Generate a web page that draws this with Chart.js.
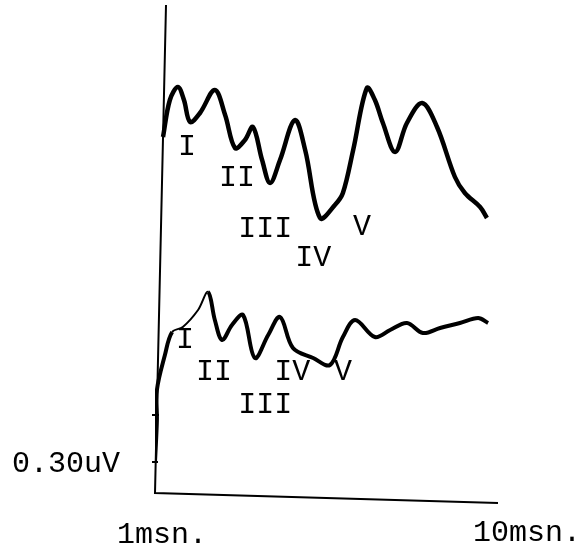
<!DOCTYPE html>
<html>
<head>
<meta charset="utf-8">
<style>
  html, body { margin: 0; padding: 0; background: #fff; }
  #wrap { width: 587px; height: 556px; position: relative; }
</style>
<script src="https://cdn.jsdelivr.net/npm/chart.js@4.4.1/dist/chart.umd.min.js"></script>
</head>
<body>
<div id="wrap"><canvas id="abrChart"></canvas></div>
<script>
// latency in ms, amplitude in arbitrary trace units
const upperTimes = [1.21, 1.39, 1.60, 1.76, 1.92, 2.18, 2.57, 2.84, 3.10, 3.36, 3.57, 3.81, 4.02, 4.28, 4.67, 4.94, 5.33, 5.72, 5.93, 6.20, 6.56, 6.77, 6.98, 7.30, 7.61, 8.01, 8.40, 8.87, 9.13, 9.53, 9.71];
const upperAmps = [3.56, 3.93, 4.06, 3.93, 3.71, 3.80, 4.03, 3.78, 3.45, 3.53, 3.66, 3.33, 3.10, 3.33, 3.73, 3.43, 2.75, 2.88, 3.00, 3.43, 4.05, 3.93, 3.70, 3.41, 3.70, 3.90, 3.66, 3.16, 3.00, 2.86, 2.75];

const lowerTimes = [1.00, 1.05, 1.05, 1.26, 1.45, 1.73, 2.13, 2.39, 2.57, 2.76, 3.02, 3.31, 3.62, 3.97, 4.28, 4.62, 5.15, 5.59, 5.93, 6.25, 6.77, 7.17, 7.61, 8.03, 8.48, 9.00, 9.48, 9.74];
const lowerAmps = [0.31, 0.73, 1.03, 1.38, 1.61, 1.66, 1.83, 2.01, 1.73, 1.53, 1.68, 1.78, 1.35, 1.58, 1.76, 1.45, 1.35, 1.28, 1.56, 1.73, 1.56, 1.63, 1.70, 1.60, 1.65, 1.70, 1.75, 1.70];

// wave labels I..V, placed under the peaks
const waveNames = ["I", "II", "III", "IV", "V"];
const upperLabelTimes = [1.84, 3.15, 3.89, 5.15, 6.43];
const upperLabelAmps = [3.46, 3.15, 2.64, 2.35, 2.66];
const lowerLabelTimes = [1.79, 2.55, 3.89, 4.60, 5.93];
const lowerLabelAmps = [1.53, 1.21, 0.88, 1.21, 1.21];

const calLabel = "0.30uV";
const startLabel = "1msn.";
const endLabel = "10msn.";

function toPoints(xs, ys) {
  return xs.map((x, i) => ({ x: x, y: ys[i] }));
}

const FONT = "30px 'Liberation Mono', 'DejaVu Sans Mono', monospace";

const handDrawn = {
  id: "handDrawn",
  beforeDatasetsDraw(chart) {
    const { ctx, chartArea } = chart;
    const l = chartArea.left, b = chartArea.bottom;
    ctx.save();
    ctx.strokeStyle = "#000";
    ctx.lineWidth = 2;
    ctx.beginPath();
    ctx.moveTo(l + 11, chartArea.top);
    ctx.lineTo(l, b);
    ctx.lineTo(chartArea.right, b + 10);
    ctx.stroke();
    // small ticks on the left axis
    ctx.beginPath();
    ctx.moveTo(l - 3, b - 78);
    ctx.lineTo(l + 4, b - 78);
    ctx.moveTo(l - 3, b - 31);
    ctx.lineTo(l + 3, b - 31);
    ctx.stroke();
    ctx.restore();
  },
  afterDatasetsDraw(chart) {
    const { ctx, chartArea, scales } = chart;
    ctx.save();
    ctx.fillStyle = "#000";
    ctx.font = FONT;
    ctx.textAlign = "center";
    ctx.textBaseline = "middle";
    waveNames.forEach((n, i) => {
      ctx.fillText(n, scales.x.getPixelForValue(upperLabelTimes[i]), scales.y.getPixelForValue(upperLabelAmps[i]));
      ctx.fillText(n, scales.x.getPixelForValue(lowerLabelTimes[i]), scales.y.getPixelForValue(lowerLabelAmps[i]));
    });
    ctx.textBaseline = "alphabetic";
    ctx.textAlign = "left";
    ctx.fillText(calLabel, chartArea.left - 143, chartArea.bottom - 21);
    ctx.fillText(startLabel, chartArea.left - 38, chartArea.bottom + 50);
    ctx.fillText(endLabel, chartArea.right - 25, chartArea.bottom + 48);
    ctx.restore();
  }
};

new Chart(document.getElementById("abrChart"), {
  type: "line",
  data: {
    datasets: [
      {
        label: "upper",
        data: toPoints(upperTimes, upperAmps),
        borderColor: "#000",
        borderWidth: 4.5,
        tension: 0.35,
        pointRadius: 0,
        fill: false,
      },
      {
        label: "lower",
        data: toPoints(lowerTimes, lowerAmps),
        borderColor: "#000",
        borderWidth: 4,
        tension: 0.35,
        pointRadius: 0,
        fill: false,
        segment: {
          borderWidth: (c) => (c.p0DataIndex >= 4 && c.p0DataIndex < 7 ? 2 : 4),
        },
      },
    ],
  },
  options: {
    responsive: true,
    maintainAspectRatio: false,
    animation: false,
    layout: { padding: { left: 155, right: 89, top: 5, bottom: 63 } },
    plugins: { legend: { display: false }, tooltip: { enabled: false } },
    scales: {
      x: { type: "linear", min: 1, max: 10, display: false },
      y: { type: "linear", min: 0, max: 4.88, display: false },
    },
  },
  plugins: [handDrawn],
});
</script>
</body>
</html>
